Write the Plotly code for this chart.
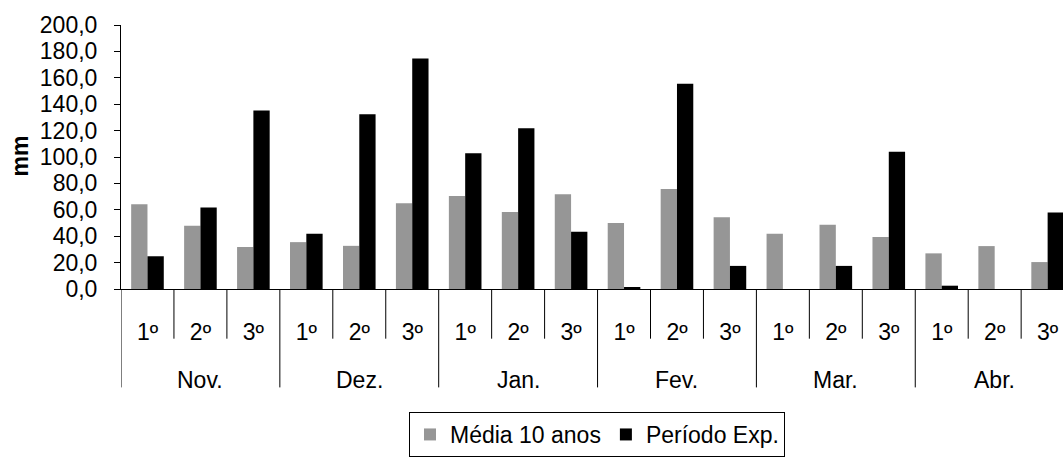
import plotly.graph_objects as go

months = ["Nov.", "Dez.", "Jan.", "Fev.", "Mar.", "Abr."]
decendios = ["1º", "2º", "3º"]
media_10_anos = [64.2, 48.0, 31.8, 35.5, 32.7, 65.0, 70.5, 58.3, 71.8, 50.0,
                 75.8, 54.4, 41.8, 48.7, 39.4, 27.0, 32.5, 20.4]
periodo_exp = [24.8, 61.8, 135.3, 41.8, 132.4, 174.7, 102.8, 121.8, 43.3, 1.2,
               155.5, 17.5, 0.0, 17.5, 104.0, 2.5, 0.0, 58.0]
y_ticks = [0, 20, 40, 60, 80, 100, 120, 140, 160, 180, 200]

n = len(media_10_anos)
x = list(range(n))
ticktext = decendios * len(months)

W, H = 1063, 457
L, R, T, B = 121, 0, 25, 161
plot_w = W - L - R
plot_h = H - T - B
cat_px = 52.95
x_range = [-0.5, -0.5 + plot_w / cat_px]
FS = 23

fig = go.Figure()
fig.add_bar(x=x, y=media_10_anos, name="Média 10 anos",
            marker=dict(color="#969696", line=dict(width=0)))
fig.add_bar(x=x, y=periodo_exp, name="Período Exp.",
            marker=dict(color="#000000", line=dict(width=0)))

shapes = []
per = len(decendios)
for b in range(n):
    pos = b - 0.5
    is_group = (b % per == 0)
    length = 101 if is_group else 51
    shapes.append(dict(type="line", xref="x", yref="paper",
                       x0=pos, x1=pos, y0=0, y1=-length / plot_h,
                       line=dict(color="black", width=1)))

annotations = []
for g, m in enumerate(months):
    annotations.append(dict(text=m, xref="x", yref="paper",
                            x=g * per + (per - 1) / 2, y=-(389 - 296) / plot_h,
                            xanchor="center", yanchor="middle", showarrow=False,
                            font=dict(size=FS, color="black")))
annotations.append(dict(text="<b>mm</b>", xref="paper", yref="paper",
                        x=(20 - L) / plot_w, y=(296 - 160) / plot_h,
                        xanchor="center", yanchor="middle", textangle=-90,
                        showarrow=False, font=dict(size=FS, color="black")))

fig.update_layout(
    width=W, height=H,
    margin=dict(l=L, r=R, t=T, b=B, pad=0),
    barmode="group", bargap=0.384, bargroupgap=0,
    plot_bgcolor="white", paper_bgcolor="white",
    font=dict(family="Liberation Sans, Arial, sans-serif", size=FS, color="black"),
    separators=",.",
    showlegend=True,
    legend=dict(orientation="h", x=(409 - L) / plot_w, xanchor="left",
                y=-(423 - 296) / plot_h, yanchor="top",
                bordercolor="black", borderwidth=1, bgcolor="white",
                itemwidth=30,
                font=dict(size=FS), traceorder="normal"),
    shapes=shapes,
    annotations=annotations,
)
fig.update_xaxes(range=x_range, tickmode="array", tickvals=x, ticktext=ticktext,
                 ticks="", showline=True, linecolor="black", linewidth=1,
                 showgrid=False, zeroline=False, ticklabelstandoff=22,
                 tickfont=dict(size=FS))
fig.update_yaxes(range=[0, 200], tickmode="array", tickvals=y_ticks,
                 tickformat=".1f", ticks="outside", ticklen=6, tickwidth=1,
                 tickcolor="black", showline=True, linecolor="black", linewidth=1,
                 showgrid=False, zeroline=False, tickfont=dict(size=FS),
                 ticklabelstandoff=12)

fig.write_html("out.html", config={"displayModeBar": False})
